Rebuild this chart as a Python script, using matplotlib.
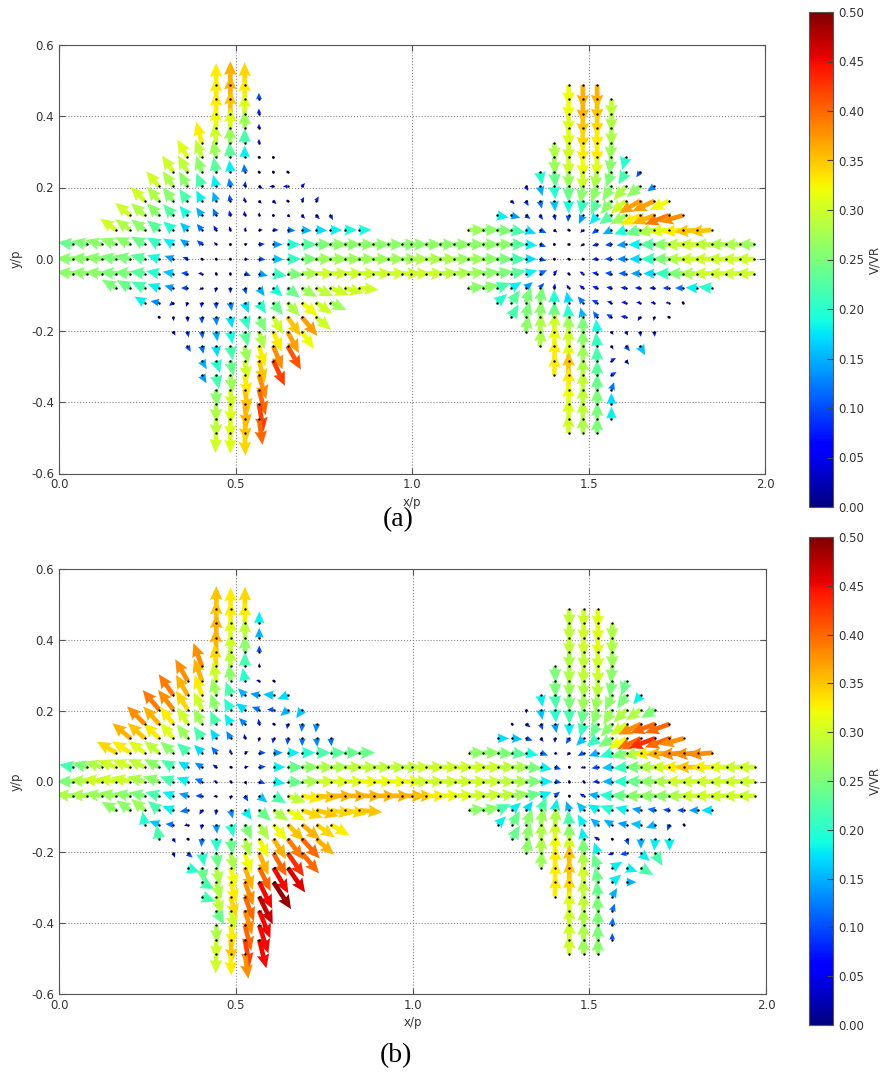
import numpy as np
import matplotlib.pyplot as plt

# grid of the measurement points (two windows: x<1 and x>1)
dx = 0.0405
dy = 0.0406
x0_left = 0.040
x0_right = 0.998
rows_j = list(range(12, -13, -1))   # row index, top (j=12) to bottom (j=-12)

# first column index of every row (same mask for both cases)
left_k0 = [10, 10, 10, 10, 9, 8, 7, 6, 5, 4, 3, 0, 0, 0, 3, 5, 6, 7, 8, 9, 9, 10, 10, 10, 10]
right_k0 = [11, 11, 11, 11, 10, 10, 9, 8, 7, 6, 4, 0, 0, 0, 4, 6, 7, 8, 9, 10, 10, 11, 11, 11, 11]

# ---------- case (a) ----------
a_left_ang = [
    [90, 90, 90],
    [90, 90, 90, 90],
    [90, 90, 90, 90],
    [92, 90, 90, 90],
    [105, 95, 92, 90, 90],
    [120, 110, 100, 95, 90, 90, 0],
    [125, 120, 110, 100, 95, 95, 90, 0, 0],
    [130, 125, 120, 112, 105, 100, 80, -30, 180, 180, 45],
    [135, 130, 128, 125, 118, 110, 100, 100, -45, -45, 0, 60, 60],
    [140, 138, 135, 132, 130, 125, 115, 105, 95, 80, 200, -30, -45, -45, -60],
    [145, 145, 142, 140, 140, 135, 130, 120, 110, 60, 0, 0, -5, -5, -3, 0, 0, 0],
    [172, 168, 165, 160, 155, 150, 150, 150, 145, 140, 130, 60, 15, 5, 0, 0, 0, 0, 0, 0, 0, 0, 0, 0],
    [178, 175, 172, 170, 168, 165, 162, 160, 158, 155, 150, 0, -5, -5, -3, 0, 0, 0, 0, 0, 0, 0, 0, 0],
    [175, 175, 175, 175, 175, 172, 170, 170, 175, 180, 200, -45, -20, -15, -10, -5, 0, 0, 0, 0, 0, 0, 0, 0],
    [150, 150, 155, 160, 165, 180, 220, 260, 270, 285, 305, 318, 322, 330, 335, 340, 345, 355],
    [150, 170, 220, 250, 265, 272, 280, 292, 303, 308, 312, 320, 325, 335],
    [270, 280, 275, 272, 275, 280, 288, 295, 300, 305, 310, 320],
    [300, 282, 278, 278, 280, 283, 288, 293, 298, 305],
    [300, 282, 278, 280, 282, 287, 292, 300],
    [300, 288, 282, 280, 285, 295],
    [300, 282, 278, 280, 287],
    [272, 275, 280, 285],
    [270, 272, 276, 280],
    [270, 270, 274, 278],
    [268, 270, 272],
]
a_left_mag = [
    [0.33, 0.36, 0.34],
    [0.33, 0.36, 0.33, 0.10],
    [0.33, 0.35, 0.31, 0.08],
    [0.32, 0.31, 0.27, 0.07],
    [0.33, 0.30, 0.27, 0.22, 0.06],
    [0.31, 0.29, 0.27, 0.23, 0.18, 0.02, 0.01],
    [0.30, 0.29, 0.26, 0.23, 0.18, 0.12, 0.03, 0.02, 0.02],
    [0.30, 0.28, 0.26, 0.22, 0.18, 0.13, 0.08, 0.07, 0.06, 0.07, 0.07],
    [0.30, 0.28, 0.26, 0.22, 0.18, 0.15, 0.10, 0.06, 0.06, 0.07, 0.02, 0.07, 0.08],
    [0.30, 0.28, 0.26, 0.23, 0.19, 0.15, 0.12, 0.08, 0.07, 0.05, 0.04, 0.05, 0.07, 0.08, 0.08],
    [0.30, 0.28, 0.26, 0.23, 0.20, 0.16, 0.12, 0.08, 0.06, 0.05, 0.06, 0.08, 0.12, 0.15, 0.17, 0.18, 0.19, 0.19],
    [0.24, 0.25, 0.26, 0.26, 0.26, 0.24, 0.21, 0.18, 0.14, 0.10, 0.05, 0.02, 0.05, 0.09, 0.14, 0.20, 0.23, 0.25, 0.26, 0.26, 0.26, 0.26, 0.26, 0.26],
    [0.26, 0.26, 0.26, 0.25, 0.25, 0.23, 0.19, 0.14, 0.08, 0.04, 0.02, 0.02, 0.06, 0.10, 0.16, 0.21, 0.25, 0.27, 0.27, 0.27, 0.27, 0.27, 0.27, 0.27],
    [0.26, 0.26, 0.26, 0.25, 0.25, 0.23, 0.20, 0.16, 0.10, 0.06, 0.03, 0.04, 0.10, 0.14, 0.21, 0.25, 0.28, 0.30, 0.30, 0.30, 0.30, 0.30, 0.30, 0.30],
    [0.25, 0.24, 0.22, 0.18, 0.14, 0.10, 0.05, 0.07, 0.08, 0.10, 0.15, 0.19, 0.24, 0.27, 0.29, 0.30, 0.30, 0.30],
    [0.18, 0.13, 0.08, 0.07, 0.08, 0.10, 0.13, 0.17, 0.20, 0.24, 0.28, 0.32, 0.30, 0.27],
    [0.02, 0.06, 0.08, 0.10, 0.13, 0.17, 0.21, 0.25, 0.30, 0.35, 0.37, 0.30],
    [0.07, 0.09, 0.11, 0.15, 0.19, 0.23, 0.28, 0.33, 0.37, 0.32],
    [0.10, 0.12, 0.17, 0.22, 0.27, 0.33, 0.38, 0.41],
    [0.15, 0.20, 0.24, 0.30, 0.35, 0.42],
    [0.14, 0.22, 0.27, 0.33, 0.38],
    [0.26, 0.30, 0.35, 0.40],
    [0.28, 0.31, 0.36, 0.42],
    [0.29, 0.31, 0.35, 0.40],
    [0.30, 0.31, 0.34],
]
a_right_ang = [
    [270, 270, 270],
    [270, 270, 270, 270],
    [270, 270, 270, 270],
    [270, 270, 270, 270],
    [272, 270, 270, 270, 265],
    [272, 270, 270, 268, 262, 255],
    [280, 275, 270, 268, 260, 250, 240, 235],
    [300, 285, 275, 270, 262, 250, 238, 228, 218, 215],
    [315, 300, 285, 275, 270, 260, 245, 230, 220, 210, 205, 205],
    [350, 345, 325, 305, 285, 265, 245, 230, 215, 210, 205, 200, 200, 195],
    [0, 0, 355, 350, 340, 335, 320, 280, 230, 215, 205, 200, 195, 190, 185, 185, 185, 185],
    [0, 0, 0, 0, 0, 0, 0, 0, 355, 340, 330, 250, 220, 195, 185, 185, 180, 180, 180, 180, 180, 180, 180, 180, 180],
    [0, 0, 0, 0, 0, 0, 0, 0, 0, 345, 330, 0, 200, 185, 180, 180, 180, 180, 180, 180, 180, 180, 180, 180, 180],
    [0, 0, 2, 3, 5, 6, 8, 10, 15, 25, 50, 100, 150, 170, 175, 178, 180, 180, 180, 180, 180, 180, 180, 180, 180],
    [5, 10, 20, 30, 40, 50, 80, 120, 140, 160, 170, 175, 178, 180, 180, 180, 178, 175],
    [40, 55, 70, 80, 90, 100, 130, 155, 165, 175, 180, 185, 190, 180],
    [60, 75, 85, 90, 95, 105, 125, 150, 170, 240, 260, 0],
    [80, 85, 88, 90, 90, 95, 300, 300, 280, 275],
    [85, 88, 90, 90, 95, 300, 310, 300],
    [88, 90, 90, 92, 30, 310],
    [88, 90, 90, 90, 30],
    [90, 90, 90, 70],
    [90, 90, 90, 90],
    [90, 90, 90, 90],
    [90, 90, 90],
]
a_right_mag = [
    [0.32, 0.36, 0.36],
    [0.32, 0.36, 0.35, 0.29],
    [0.31, 0.35, 0.34, 0.28],
    [0.31, 0.34, 0.33, 0.28],
    [0.28, 0.30, 0.33, 0.33, 0.27],
    [0.27, 0.30, 0.32, 0.31, 0.26, 0.20],
    [0.20, 0.24, 0.27, 0.30, 0.28, 0.25, 0.22, 0.10],
    [0.08, 0.15, 0.20, 0.24, 0.26, 0.26, 0.26, 0.28, 0.26, 0.13],
    [0.07, 0.09, 0.12, 0.16, 0.19, 0.21, 0.23, 0.26, 0.30, 0.37, 0.37, 0.32],
    [0.18, 0.14, 0.09, 0.08, 0.08, 0.10, 0.14, 0.18, 0.23, 0.27, 0.33, 0.36, 0.39, 0.38],
    [0.27, 0.26, 0.25, 0.22, 0.17, 0.11, 0.06, 0.04, 0.06, 0.10, 0.15, 0.19, 0.24, 0.28, 0.31, 0.33, 0.35, 0.35],
    [0.26, 0.26, 0.26, 0.26, 0.26, 0.26, 0.26, 0.23, 0.18, 0.10, 0.03, 0.02, 0.05, 0.08, 0.10, 0.14, 0.18, 0.23, 0.26, 0.29, 0.30, 0.29, 0.28, 0.28, 0.27],
    [0.28, 0.28, 0.28, 0.27, 0.27, 0.26, 0.25, 0.22, 0.17, 0.10, 0.04, 0.01, 0.02, 0.08, 0.10, 0.13, 0.17, 0.21, 0.25, 0.28, 0.30, 0.30, 0.30, 0.30, 0.30],
    [0.30, 0.30, 0.29, 0.28, 0.27, 0.26, 0.25, 0.23, 0.18, 0.12, 0.07, 0.04, 0.06, 0.08, 0.10, 0.11, 0.14, 0.17, 0.21, 0.25, 0.28, 0.30, 0.30, 0.30, 0.30],
    [0.26, 0.26, 0.22, 0.18, 0.14, 0.10, 0.07, 0.06, 0.07, 0.08, 0.08, 0.08, 0.08, 0.08, 0.09, 0.12, 0.18, 0.20],
    [0.20, 0.23, 0.25, 0.25, 0.20, 0.17, 0.12, 0.09, 0.07, 0.07, 0.06, 0.06, 0.05, 0.02],
    [0.22, 0.25, 0.26, 0.24, 0.20, 0.15, 0.11, 0.09, 0.08, 0.07, 0.06, 0.02],
    [0.26, 0.28, 0.30, 0.27, 0.25, 0.19, 0.06, 0.07, 0.08, 0.08],
    [0.28, 0.32, 0.30, 0.26, 0.21, 0.06, 0.10, 0.16],
    [0.33, 0.31, 0.27, 0.22, 0.08, 0.08],
    [0.33, 0.35, 0.28, 0.23, 0.09],
    [0.33, 0.29, 0.24, 0.12],
    [0.32, 0.29, 0.25, 0.17],
    [0.31, 0.29, 0.25, 0.18],
    [0.30, 0.28, 0.25],
]

# ---------- case (b) ----------
b_left_ang = [
    [90, 90, 90],
    [90, 90, 90, 90],
    [90, 90, 90, 90],
    [92, 90, 90, 90],
    [110, 95, 92, 90, 90],
    [120, 110, 100, 95, 100, 170, 0],
    [125, 120, 110, 105, 110, 135, 170, 175, 200],
    [130, 128, 122, 115, 110, 120, 145, 160, 180, 220, 235],
    [135, 132, 128, 122, 118, 115, 120, 135, 100, 0, 260, 265, 265],
    [140, 138, 135, 130, 128, 125, 122, 120, 100, 260, 260, 265, 270, 275, 275],
    [150, 148, 145, 142, 140, 138, 135, 130, 100, 20, 0, 0, 0, 0, 0, 0, 0, 0],
    [170, 165, 162, 160, 158, 155, 152, 150, 150, 148, 145, 120, 10, 5, 0, 0, 0, 0, 0, 0, 0, 0, 0, 0],
    [180, 175, 172, 170, 168, 165, 162, 160, 160, 160, 170, 0, 300, 340, 350, 355, 0, 0, 0, 0, 0, 0, 0, 0],
    [175, 175, 172, 170, 170, 168, 165, 160, 165, 180, 200, 270, 300, 320, 330, 340, 350, 355, 0, 0, 0, 0, 0, 0],
    [150, 145, 140, 140, 160, 190, 240, 265, 285, 305, 318, 325, 330, 340, 345, 350, 350, 355],
    [100, 160, 175, 200, 262, 275, 285, 295, 303, 310, 315, 320, 325, 330],
    [100, 300, 0, 265, 272, 278, 288, 296, 302, 307, 312, 318],
    [290, 320, 280, 278, 283, 288, 293, 300, 305, 310],
    [340, 280, 282, 285, 290, 296, 300, 305],
    [330, 285, 286, 290, 296, 303],
    [340, 288, 285, 290, 296],
    [300, 283, 287, 292],
    [272, 278, 284, 288],
    [270, 274, 280, 284],
    [268, 272, 278],
]
b_left_mag = [
    [0.35, 0.33, 0.34],
    [0.35, 0.33, 0.33, 0.18],
    [0.36, 0.31, 0.29, 0.15],
    [0.36, 0.30, 0.26, 0.10],
    [0.38, 0.34, 0.29, 0.22, 0.05],
    [0.38, 0.36, 0.30, 0.26, 0.20, 0.05, 0.02],
    [0.39, 0.36, 0.33, 0.27, 0.22, 0.15, 0.14, 0.16, 0.17],
    [0.39, 0.38, 0.34, 0.30, 0.26, 0.20, 0.17, 0.12, 0.10, 0.15, 0.16],
    [0.38, 0.36, 0.33, 0.30, 0.27, 0.22, 0.18, 0.13, 0.08, 0.03, 0.08, 0.12, 0.13],
    [0.36, 0.35, 0.33, 0.31, 0.27, 0.22, 0.17, 0.13, 0.07, 0.06, 0.08, 0.10, 0.12, 0.13, 0.12],
    [0.34, 0.33, 0.31, 0.29, 0.26, 0.22, 0.17, 0.12, 0.06, 0.06, 0.10, 0.14, 0.18, 0.20, 0.22, 0.23, 0.24, 0.24],
    [0.22, 0.25, 0.28, 0.30, 0.30, 0.29, 0.26, 0.22, 0.17, 0.13, 0.07, 0.03, 0.06, 0.10, 0.18, 0.24, 0.26, 0.28, 0.28, 0.29, 0.29, 0.29, 0.29, 0.29],
    [0.25, 0.28, 0.30, 0.30, 0.30, 0.28, 0.26, 0.22, 0.18, 0.12, 0.05, 0.02, 0.06, 0.10, 0.18, 0.24, 0.28, 0.30, 0.31, 0.31, 0.32, 0.32, 0.32, 0.32],
    [0.28, 0.28, 0.27, 0.27, 0.26, 0.25, 0.22, 0.18, 0.14, 0.10, 0.05, 0.06, 0.10, 0.16, 0.22, 0.29, 0.33, 0.35, 0.36, 0.36, 0.36, 0.36, 0.36, 0.36],
    [0.26, 0.26, 0.27, 0.22, 0.18, 0.12, 0.08, 0.08, 0.13, 0.18, 0.24, 0.28, 0.32, 0.34, 0.35, 0.34, 0.34, 0.35],
    [0.20, 0.16, 0.12, 0.06, 0.08, 0.14, 0.20, 0.25, 0.28, 0.32, 0.35, 0.36, 0.34, 0.33],
    [0.22, 0.07, 0.03, 0.12, 0.20, 0.24, 0.28, 0.32, 0.36, 0.39, 0.40, 0.36],
    [0.07, 0.10, 0.20, 0.24, 0.28, 0.32, 0.36, 0.40, 0.43, 0.40],
    [0.20, 0.24, 0.28, 0.32, 0.36, 0.40, 0.45, 0.46],
    [0.22, 0.28, 0.33, 0.38, 0.45, 0.49],
    [0.22, 0.29, 0.34, 0.40, 0.47],
    [0.24, 0.30, 0.38, 0.45],
    [0.28, 0.33, 0.40, 0.45],
    [0.30, 0.35, 0.42, 0.45],
    [0.30, 0.33, 0.38],
]
b_right_ang = [
    [270, 270, 270],
    [270, 270, 270, 270],
    [270, 270, 270, 270],
    [270, 270, 270, 270],
    [272, 270, 270, 270, 265],
    [272, 270, 270, 268, 260, 250],
    [280, 275, 270, 268, 260, 245, 235, 230],
    [270, 280, 275, 270, 262, 250, 240, 225, 215, 210],
    [0, 320, 290, 280, 270, 255, 240, 228, 215, 205, 200, 200],
    [0, 355, 340, 310, 270, 240, 225, 215, 212, 210, 205, 200, 200, 195],
    [0, 0, 355, 352, 348, 340, 330, 230, 210, 200, 198, 195, 190, 185, 185, 185, 185, 185],
    [0, 0, 0, 0, 0, 0, 0, 0, 355, 350, 340, 250, 200, 190, 185, 185, 180, 180, 180, 180, 180, 180, 180, 180, 180],
    [0, 0, 0, 0, 0, 0, 0, 0, 0, 0, 350, 0, 200, 185, 180, 180, 180, 180, 180, 180, 180, 180, 180, 180, 180],
    [0, 0, 2, 3, 4, 5, 6, 8, 10, 20, 40, 100, 150, 170, 175, 178, 180, 180, 180, 180, 180, 180, 180, 180, 180],
    [5, 10, 25, 40, 55, 65, 80, 110, 130, 150, 160, 165, 170, 170, 175, 180, 180, 180],
    [45, 60, 70, 80, 85, 95, 120, 140, 150, 170, 175, 200, 250, 0],
    [60, 75, 85, 88, 90, 100, 150, 0, 290, 270, 265, 270],
    [80, 85, 88, 90, 92, 110, 200, 190, 320, 300],
    [85, 88, 90, 92, 110, 30, 340, 330],
    [88, 90, 92, 100, 40, 0],
    [88, 90, 92, 95, 60],
    [90, 90, 92, 70],
    [90, 90, 90, 85],
    [90, 90, 90, 90],
    [90, 90, 90],
]
b_right_mag = [
    [0.29, 0.30, 0.31],
    [0.29, 0.30, 0.31, 0.28],
    [0.29, 0.30, 0.31, 0.28],
    [0.28, 0.29, 0.30, 0.27],
    [0.25, 0.28, 0.29, 0.30, 0.26],
    [0.25, 0.27, 0.28, 0.29, 0.25, 0.24],
    [0.18, 0.22, 0.25, 0.27, 0.27, 0.26, 0.25, 0.18],
    [0.06, 0.16, 0.20, 0.22, 0.24, 0.26, 0.27, 0.28, 0.28, 0.25],
    [0.04, 0.08, 0.10, 0.14, 0.18, 0.21, 0.24, 0.26, 0.30, 0.38, 0.40, 0.40],
    [0.17, 0.16, 0.10, 0.07, 0.07, 0.10, 0.16, 0.21, 0.25, 0.32, 0.40, 0.43, 0.40, 0.38],
    [0.26, 0.26, 0.25, 0.23, 0.19, 0.12, 0.05, 0.06, 0.10, 0.15, 0.20, 0.25, 0.28, 0.33, 0.36, 0.38, 0.38, 0.38],
    [0.30, 0.30, 0.30, 0.30, 0.30, 0.30, 0.29, 0.28, 0.25, 0.18, 0.10, 0.03, 0.05, 0.10, 0.16, 0.21, 0.25, 0.28, 0.30, 0.33, 0.35, 0.33, 0.31, 0.30, 0.30],
    [0.30, 0.30, 0.30, 0.30, 0.30, 0.30, 0.29, 0.28, 0.25, 0.18, 0.10, 0.02, 0.03, 0.08, 0.15, 0.20, 0.24, 0.26, 0.28, 0.30, 0.30, 0.30, 0.30, 0.30, 0.30],
    [0.35, 0.33, 0.32, 0.31, 0.30, 0.30, 0.29, 0.27, 0.24, 0.18, 0.10, 0.04, 0.07, 0.15, 0.20, 0.24, 0.26, 0.26, 0.26, 0.28, 0.30, 0.30, 0.30, 0.30, 0.30],
    [0.26, 0.26, 0.22, 0.18, 0.17, 0.22, 0.18, 0.15, 0.16, 0.18, 0.20, 0.18, 0.14, 0.12, 0.10, 0.10, 0.14, 0.17],
    [0.18, 0.24, 0.26, 0.27, 0.28, 0.22, 0.18, 0.15, 0.15, 0.14, 0.16, 0.15, 0.10, 0.03],
    [0.24, 0.26, 0.28, 0.30, 0.26, 0.18, 0.07, 0.03, 0.10, 0.15, 0.18, 0.18],
    [0.26, 0.28, 0.32, 0.30, 0.25, 0.18, 0.07, 0.10, 0.18, 0.22],
    [0.27, 0.33, 0.35, 0.28, 0.24, 0.18, 0.18, 0.22],
    [0.33, 0.35, 0.30, 0.24, 0.18, 0.15],
    [0.33, 0.34, 0.29, 0.24, 0.15],
    [0.31, 0.29, 0.25, 0.12],
    [0.30, 0.28, 0.25, 0.12],
    [0.30, 0.28, 0.25, 0.10],
    [0.30, 0.27, 0.26],
]


def field(k0s, angs, mags, x0):
    # turn the row tables into point positions and vector components
    xs, ys, us, vs, ms = [], [], [], [], []
    for j, k0, a_row, m_row in zip(rows_j, k0s, angs, mags):
        for n, (a, m) in enumerate(zip(a_row, m_row)):
            xs.append(x0 + (k0 + n) * dx)
            ys.append(j * dy)
            us.append(m * np.cos(np.radians(a)))
            vs.append(m * np.sin(np.radians(a)))
            ms.append(m)
    return np.array(xs), np.array(ys), np.array(us), np.array(vs), np.array(ms)


def draw_panel(ax, cax, left_ang, left_mag, right_ang, right_mag):
    parts = [field(left_k0, left_ang, left_mag, x0_left),
             field(right_k0, right_ang, right_mag, x0_right)]
    x = np.concatenate([p[0] for p in parts])
    y = np.concatenate([p[1] for p in parts])
    u = np.concatenate([p[2] for p in parts])
    v = np.concatenate([p[3] for p in parts])
    m = np.concatenate([p[4] for p in parts])

    q = ax.quiver(x, y, u, v, m, cmap='jet', clim=(0, 0.5), angles='xy',
                  scale_units='xy', scale=5.4, width=0.0066, headwidth=2.7,
                  headlength=3.0, headaxislength=2.7, minlength=0.6, zorder=2)
    ax.scatter(x, y, s=3, c='k', linewidths=0, zorder=3)

    ax.set_xlim(0, 2)
    ax.set_ylim(-0.6, 0.6)
    ax.set_xticks([0, 0.5, 1.0, 1.5, 2.0])
    ax.set_yticks([-0.6, -0.4, -0.2, 0.0, 0.2, 0.4, 0.6])
    ax.xaxis.set_major_formatter(plt.FormatStrFormatter('%.1f'))
    ax.yaxis.set_major_formatter(plt.FormatStrFormatter('%.1f'))
    ax.set_axisbelow(True)
    ax.grid(True, linestyle=':', color='#8a8a8a', linewidth=0.8)
    ax.tick_params(direction='in', top=True, right=True, labelsize=8.5,
                   labelcolor='#333333', color='#555555', length=4)
    for s in ax.spines.values():
        s.set_color('#555555')
    ax.set_xlabel('x/p', fontsize=8.5, color='#333333', labelpad=3)
    ax.set_ylabel('y/p', fontsize=8.5, color='#333333', labelpad=6)

    cb = plt.colorbar(q, cax=cax)
    cb.set_ticks(np.arange(0, 0.51, 0.05))
    cb.ax.yaxis.set_major_formatter(plt.FormatStrFormatter('%.2f'))
    cb.ax.tick_params(direction='in', labelsize=8.5, labelcolor='#333333',
                      color='#444444', length=4)
    cb.outline.set_edgecolor('#555555')
    cb.set_label('V/VR', fontsize=8.5, color='#333333', labelpad=3)


fig = plt.figure(figsize=(8.8, 10.72), dpi=100)
W, H = 880.0, 1072.0
ax_a = fig.add_axes([59 / W, 1 - 473.5 / H, 706 / W, 429 / H])
cax_a = fig.add_axes([809 / W, 1 - 507 / H, 24 / W, 495 / H])
ax_b = fig.add_axes([59 / W, 1 - 994 / H, 707 / W, 425 / H])
cax_b = fig.add_axes([809 / W, 1 - 1025 / H, 24 / W, 488 / H])

draw_panel(ax_a, cax_a, a_left_ang, a_left_mag, a_right_ang, a_right_mag)
draw_panel(ax_b, cax_b, b_left_ang, b_left_mag, b_right_ang, b_right_mag)

fig.text(398 / W, 1 - 520 / H, '(a)', family='Liberation Serif', fontsize=20,
         ha='center', va='center')
fig.text(396 / W, 1 - 1056 / H, '(b)', family='Liberation Serif', fontsize=20,
         ha='center', va='center')

fig.savefig('out.png', dpi=100)
